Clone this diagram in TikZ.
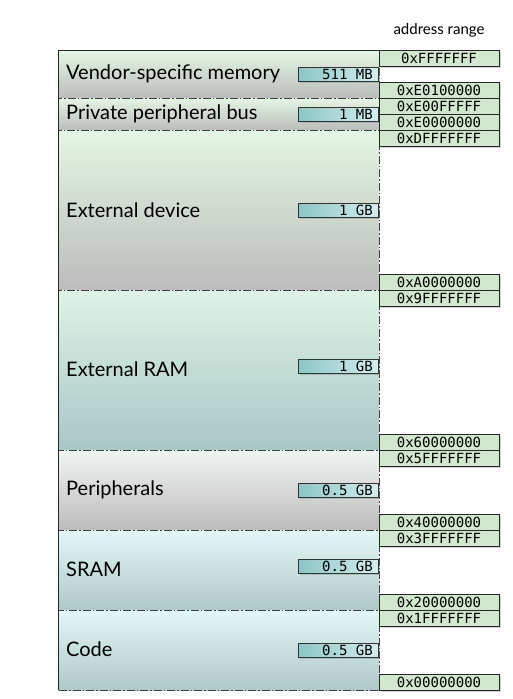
\documentclass[tikz,border=0pt]{standalone}
\usepackage{fontspec}
\setmainfont{Lato}
\setmonofont{DejaVu Sans Mono}
\usetikzlibrary{shadows}
\definecolor{addrfill}{HTML}{D2E8CE}
\definecolor{sizeL}{HTML}{8CC6C6}
\definecolor{sizeR}{HTML}{D4EEEE}
\definecolor{grnT}{HTML}{E4F6E4}
\definecolor{grayB}{HTML}{BCBCBC}
\definecolor{ramT}{HTML}{DDF4E6}
\definecolor{ramM}{HTML}{B2E2DE}
\definecolor{ramB}{HTML}{A9C6C6}
\definecolor{perT}{HTML}{F1F5F2}
\definecolor{srT}{HTML}{E2F8F6}
\definecolor{srM}{HTML}{C0ECEC}
\definecolor{srB}{HTML}{AFC8C8}
\tikzset{
  x=1pt, y=-1pt,
  region/.style={draw=black!75, line width=0.6pt, dash pattern=on 8pt off 2pt on 1.5pt off 2pt},
  lbl/.style={anchor=west, inner sep=0pt, font=\fontsize{20}{24}\selectfont},
  sizebox/.style={draw=black!80, line width=0.6pt, left color=sizeL, right color=sizeR,
    minimum width=80pt, minimum height=14pt, inner sep=0pt, anchor=east,
    drop shadow={shadow xshift=1.5pt, shadow yshift=-1.5pt, opacity=0.35}},
  sizetxt/.style={anchor=east, inner sep=0pt, font=\ttfamily\fontsize{14}{14}\selectfont},
  addr/.style={draw=black!85, line width=0.6pt, fill=addrfill, minimum width=120pt,
    minimum height=16pt, inner sep=0pt, font=\ttfamily\fontsize{14}{14}\selectfont,
    drop shadow={shadow xshift=1.5pt, shadow yshift=-1.5pt, opacity=0.35}},
}
\newcommand{\sizelabel}[3]{%
  \node[sizebox] (#1) at (379,#2) {};
  \node[sizetxt] (#1t) at ([xshift=-6pt]#1.east) {#3};
}
\begin{document}
\begin{tikzpicture}
\useasboundingbox (0,0) rectangle (512,699);
% regions
\shade[top color=grnT, bottom color=grayB] (58,50) rectangle (379,98);
\draw[region] (58,50) rectangle (379,98);
\shade[top color=grnT, bottom color=grayB] (58,98) rectangle (379,130);
\draw[region] (58,98) rectangle (379,130);
\shade[top color=grnT, bottom color=grayB] (58,130) rectangle (379,290);
\draw[region] (58,130) rectangle (379,290);
\shade[top color=ramT, middle color=ramM, bottom color=ramB] (58,290) rectangle (379,450);
\draw[region] (58,290) rectangle (379,450);
\shade[top color=perT, bottom color=grayB] (58,450) rectangle (379,530);
\draw[region] (58,450) rectangle (379,530);
\shade[top color=srT, middle color=srM, bottom color=srB] (58,530) rectangle (379,610);
\draw[region] (58,530) rectangle (379,610);
\shade[top color=srT, middle color=srM, bottom color=srB] (58,610) rectangle (379,690);
\draw[region] (58,610) rectangle (379,690);
\draw[black!85, line width=0.8pt] (58,690) -- (58,50) -- (379,50);
% labels
\node[lbl] (lv) at (66,74) {Vendor-specific memory};
\node[lbl] (lp) at (66,114) {Private peripheral bus};
\node[lbl] (ld) at (66,210) {External device};
\node[lbl] (lr) at (66,369) {External RAM};
\node[lbl] (lper) at (66,490) {Peripherals};
\node[lbl] (ls) at (66,569) {SRAM};
\node[lbl] (lc) at (66,649) {Code};
% sizes
\sizelabel{sv}{74}{511 MB}
\sizelabel{sp}{114}{1 MB}
\sizelabel{sd}{210}{1 GB}
\sizelabel{sr}{366}{1 GB}
\sizelabel{sper}{490}{0.5 GB}
\sizelabel{ss}{566}{0.5 GB}
\sizelabel{sc}{650}{0.5 GB}
% address column
\node[anchor=center, font=\fontsize{15}{16}\selectfont] (hdr) at (439,30) {address range};
\node[addr] (a1) at (439,58) {0xFFFFFFF};
\node[addr] (a2) at (439,90) {0xE0100000};
\node[addr] (a3) at (439,106) {0xE00FFFFF};
\node[addr] (a4) at (439,122) {0xE0000000};
\node[addr] (a5) at (439,138) {0xDFFFFFFF};
\node[addr] (a6) at (439,282) {0xA0000000};
\node[addr] (a7) at (439,298) {0x9FFFFFFF};
\node[addr] (a8) at (439,442) {0x60000000};
\node[addr] (a9) at (439,458) {0x5FFFFFFF};
\node[addr] (a10) at (439,522) {0x40000000};
\node[addr] (a11) at (439,538) {0x3FFFFFFF};
\node[addr] (a12) at (439,602) {0x20000000};
\node[addr] (a13) at (439,618) {0x1FFFFFFF};
\node[addr] (a14) at (439,682) {0x00000000};
\end{tikzpicture}
\end{document}
